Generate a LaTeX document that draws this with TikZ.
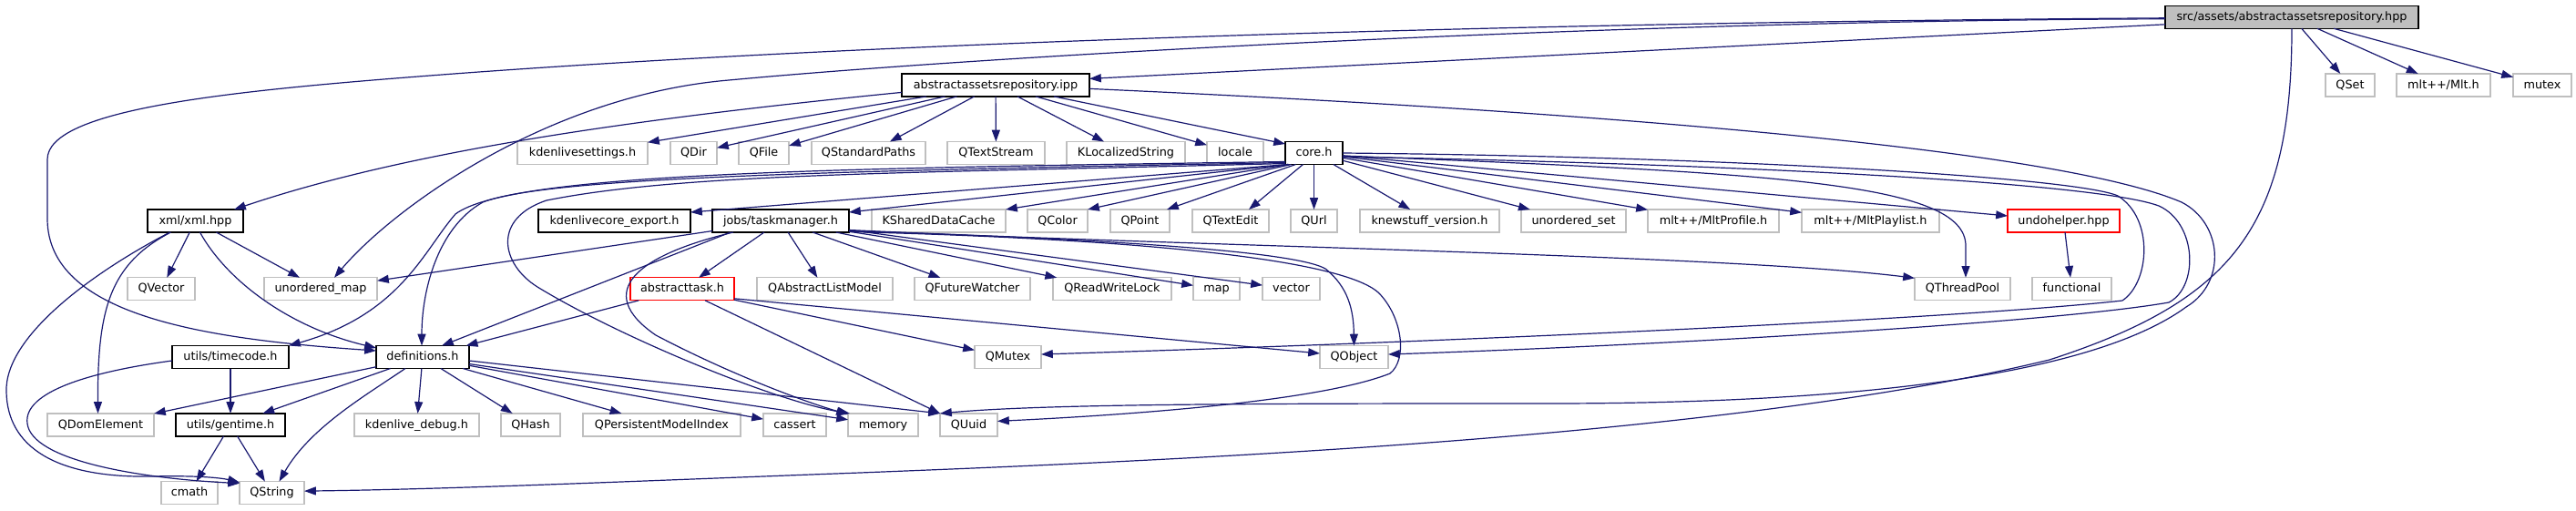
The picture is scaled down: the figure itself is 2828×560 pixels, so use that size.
\documentclass[tikz,border=0pt]{standalone}
\usepackage{fontspec}
\setmainfont{DejaVu Sans}
\usetikzlibrary{arrows.meta,calc}
\definecolor{edgeblue}{HTML}{191970}
\definecolor{extgray}{HTML}{BFBFBF}
\begin{document}
\begin{tikzpicture}[x=1pt,y=-1pt,
  box/.style={rectangle, inner sep=0pt, outer sep=0pt, minimum height=25pt, line width=1.2pt, fill=white, text height=9.3pt, text depth=2pt, font=\fontsize{12.8}{14}\selectfont},
  ext/.style={box, draw=extgray},
  doc/.style={box, draw=black},
  undoc/.style={box, draw=red},
  root/.style={box, draw=black, fill=extgray},
  edge/.style={draw=edgeblue, line width=1.2pt, -{Triangle[length=12.8pt,width=9pt]}}]
\useasboundingbox (0,0) rectangle (2828,560);
% row 0
\node[root, minimum width=278pt] (src) at (2516,18.8) {src/assets/abstractassetsrepository.hpp};
% row 1
\node[doc, minimum width=206pt] (ipp) at (1093,93.4) {abstractassetsrepository.ipp};
\node[ext, minimum width=54pt] (qset) at (2580,93.4) {QSet};
\node[ext, minimum width=103pt] (mlth) at (2682.5,93.4) {mlt++/Mlt.h};
\node[ext, minimum width=64pt] (mutex) at (2791,93.4) {mutex};
% row 2
\node[ext, minimum width=143pt] (kset) at (639.5,168) {kdenlivesettings.h};
\node[ext, minimum width=51pt] (qdir) at (761.5,168) {QDir};
\node[ext, minimum width=55pt] (qfile) at (838.5,168) {QFile};
\node[ext, minimum width=125pt] (qsp) at (953.5,168) {QStandardPaths};
\node[ext, minimum width=107pt] (qts) at (1093.5,168) {QTextStream};
\node[ext, minimum width=130pt] (kls) at (1236,168) {KLocalizedString};
\node[ext, minimum width=62pt] (locale) at (1356,168) {locale};
\node[doc, minimum width=63pt] (core) at (1442.5,168) {core.h};
% row 3
\node[doc, minimum width=105pt] (xml) at (214.5,242.5) {xml/xml.hpp};
\node[doc, minimum width=167pt] (kexp) at (674.5,242.5) {kdenlivecore\_export.h};
\node[doc, minimum width=150pt] (tm) at (857,242.5) {jobs/taskmanager.h};
\node[ext, minimum width=147pt] (ksdc) at (1030.5,242.5) {KSharedDataCache};
\node[ext, minimum width=66pt] (qcolor) at (1161,242.5) {QColor};
\node[ext, minimum width=65pt] (qpoint) at (1251.5,242.5) {QPoint};
\node[ext, minimum width=84pt] (qtedit) at (1351,242.5) {QTextEdit};
\node[ext, minimum width=51pt] (qurl) at (1442.5,242.5) {QUrl};
\node[ext, minimum width=153pt] (kns) at (1569.5,242.5) {knewstuff\_version.h};
\node[ext, minimum width=115pt] (uset) at (1727.5,242.5) {unordered\_set};
\node[ext, minimum width=144pt] (mltprof) at (1881,242.5) {mlt++/MltProfile.h};
\node[ext, minimum width=151pt] (mltplay) at (2053.5,242.5) {mlt++/MltPlaylist.h};
\node[undoc, minimum width=123pt] (undo) at (2265.5,242.5) {undohelper.hpp};
% row 4
\node[ext, minimum width=74pt] (qvector) at (177,317.3) {QVector};
\node[ext, minimum width=124pt] (umap) at (352,317.3) {unordered\_map};
\node[undoc, minimum width=114pt] (atask) at (749,317.3) {abstracttask.h};
\node[ext, minimum width=149pt] (qalm) at (905.5,317.3) {QAbstractListModel};
\node[ext, minimum width=127pt] (qfw) at (1067.5,317.3) {QFutureWatcher};
\node[ext, minimum width=130pt] (qrwl) at (1221,317.3) {QReadWriteLock};
\node[ext, minimum width=51pt] (map) at (1335.5,317.3) {map};
\node[ext, minimum width=63pt] (vector) at (1417.5,317.3) {vector};
\node[ext, minimum width=105pt] (qtp) at (2154.5,317.3) {QThreadPool};
\node[ext, minimum width=87pt] (functional) at (2274.5,317.3) {functional};
% row 5
\node[doc, minimum width=128pt] (timecode) at (253,392) {utils/timecode.h};
\node[doc, minimum width=102pt] (defs) at (464,392) {definitions.h};
\node[ext, minimum width=73pt] (qmutex) at (1106.5,392) {QMutex};
\node[ext, minimum width=75pt] (qobject) at (1486.5,392) {QObject};
% row 6
\node[ext, minimum width=117pt] (qdom) at (110.5,466.4) {QDomElement};
\node[doc, minimum width=120pt] (gentime) at (253,466.4) {utils/gentime.h};
\node[ext, minimum width=137pt] (kdbg) at (457.5,466.4) {kdenlive\_debug.h};
\node[ext, minimum width=65pt] (qhash) at (582.5,466.4) {QHash};
\node[ext, minimum width=173pt] (qpmi) at (726.5,466.4) {QPersistentModelIndex};
\node[ext, minimum width=69pt] (cassert) at (872.5,466.4) {cassert};
\node[ext, minimum width=77pt] (memory) at (969.5,466.4) {memory};
\node[ext, minimum width=63pt] (quuid) at (1063.5,466.4) {QUuid};
% row 7
\node[ext, minimum width=62pt] (cmath) at (208,541.1) {cmath};
\node[ext, minimum width=71pt] (qstring) at (298.5,541.1) {QString};

% ---- edges from src
\draw[edge] ($(src.west)+(0,8)$) -- ($(ipp.east)+(0,-7)$);
\draw[edge] ($(src.west)+(0,1)$) .. controls (1600,25) and (900,50) .. (472,83)
  .. controls (250,100) and (52,120) .. (52,175) -- (52,240)
  .. controls (52,345) and (220,372) .. ($(defs.west)+(0,-7)$);
\draw[edge] ($(src.west)+(0,2)$) .. controls (1800,22) and (1100,60) .. (800,88)
  .. controls (600,105) and (430,230) .. ($(umap.north)+(15,0)$);
\draw[edge] (src) -- (qset);
\draw[edge] (src) -- (mlth);
\draw[edge] (src) -- (mutex);
\draw[edge] (src.south) .. controls (2516,250) and (2450,330) .. (2250,395)
  .. controls (1900,480) and (1300,505) .. (944,519)
  .. controls (700,528) and (500,537) .. ($(qstring.east)+(0,-2)$);

% ---- edges from ipp
\draw[edge] ($(ipp.west)+(0,8)$) .. controls (700,130) and (450,165) .. ($(xml.north east)+(-10,0)$);
\draw[edge] (ipp) -- (kset);
\draw[edge] (ipp) -- (qdir);
\draw[edge] (ipp) -- (qfile);
\draw[edge] (ipp) -- (qsp);
\draw[edge] (ipp) -- (qts);
\draw[edge] (ipp) -- (kls);
\draw[edge] (ipp) -- (locale);
\draw[edge] ($(ipp.south)+(64,0)$) -- ($(core.west)+(0,-10)$);
\draw[edge] ($(ipp.east)+(0,4)$) .. controls (1700,120) and (2250,160) .. (2395,222)
  .. controls (2440,245) and (2445,310) .. (2400,337)
  .. controls (2300,410) and (2050,443) .. (1700,443)
  .. controls (1400,443) and (1150,443) .. (quuid.north west);

% ---- edges from core.h
\draw[edge] ($(core.south west)+(3,0)$) -- ($(kexp.north east)+(0,3)$);
\draw[edge] ($(core.south west)+(3,0)$) -- ($(tm.north east)+(0,3)$);
\draw[edge] ($(core.south west)+(4,0)$) -- (ksdc.north east);
\draw[edge] ($(core.south)+(-25,0)$) -- (qcolor.north east);
\draw[edge] ($(core.south)+(-20,0)$) -- ($(qpoint.north east)+(-3,0)$);
\draw[edge] ($(core.south)+(-12,0)$) -- ($(qtedit.north east)+(-22,0)$);
\draw[edge] (core) -- (qurl);
\draw[edge] (core) -- (kns);
\draw[edge] (core) -- (uset);
\draw[edge] (core) -- (mltprof);
\draw[edge] (core) -- (mltplay);
\draw[edge] (core) -- (undo);
\draw[edge] ($(core.east)+(0,3)$) .. controls (1950,190) and (2158,200) .. (2158,270) -- ($(qtp.north)+(3.5,0)$);
\draw[edge] (core.east) .. controls (1900,172) and (2280,195) .. (2325,215)
  .. controls (2365,240) and (2360,310) .. (2330,330)
  .. controls (2150,350) and (1600,375) .. ($(qmutex.east)+(0,-3)$);
\draw[edge] ($(core.east)+(0,4)$) .. controls (1900,180) and (2300,200) .. (2370,226)
  .. controls (2412,245) and (2414,315) .. (2381,332)
  .. controls (2250,355) and (1800,380) .. ($(qobject.east)+(0,-3)$);
\draw[edge] ($(core.south west)+(0,-3)$) .. controls (900,185) and (560,190) .. (500,235)
  .. controls (465,275) and (440,345) .. (timecode.north east);
\draw[edge] ($(core.south west)+(0,-2)$) .. controls (900,188) and (600,195) .. (530,222)
  .. controls (480,250) and (463,320) .. ($(defs.north)+(-1,0)$);
\draw[edge] ($(core.south west)+(0,-1)$) .. controls (1000,190) and (750,190) .. (600,220)
  .. controls (540,240) and (550,290) .. (590,315)
  .. controls (680,370) and (850,440) .. ($(memory.north west)+(2,0)$);

% ---- edges from xml
\draw[edge] (xml) -- (qvector);
\draw[edge] (xml) -- (umap);
\draw[edge] ($(xml.south)+(5,0)$) .. controls (250,310) and (320,360) .. ($(defs.west)+(0,-10)$);
\draw[edge] ($(xml.south)+(-27,0)$) .. controls (120,290) and (107,340) .. ($(qdom.north)+(-3,0)$);
\draw[edge] ($(xml.south)+(-28,0)$) .. controls (100,300) and (5,370) .. (7,430)
  .. controls (8,490) and (60,525) .. (167,523)
  .. controls (210,522) and (240,524) .. ($(qstring.north west)+(0,1)$);

% ---- edges from taskmanager
\draw[edge] (tm) -- (umap);
\draw[edge] ($(tm.south)+(-55,0)$) -- ($(defs.north)+(21,0)$);
\draw[edge] (tm) -- (atask);
\draw[edge] (tm) -- (qalm);
\draw[edge] (tm) -- (qfw);
\draw[edge] (tm) -- (qrwl);
\draw[edge] (tm) -- (map);
\draw[edge] (tm) -- (vector);
\draw[edge] ($(tm.east)+(0,10)$) .. controls (1300,270) and (1900,280) .. ($(qtp.west)+(0,-12)$);
\draw[edge] ($(tm.east)+(0,11)$) .. controls (1200,262) and (1420,275) .. (1455,295)
  .. controls (1480,315) and (1486,340) .. (qobject.north);
\draw[edge] ($(tm.east)+(0,12)$) .. controls (1250,262) and (1480,285) .. (1515,323)
  .. controls (1540,350) and (1545,395) .. (1526,410)
  .. controls (1450,440) and (1250,455) .. ($(quuid.east)+(0,-4)$);
\draw[edge] ($(tm.south)+(-52,0)$) .. controls (700,280) and (650,320) .. (720,368)
  .. controls (800,410) and (880,440) .. ($(memory.north west)+(0,1)$);

% ---- edges from abstracttask
\draw[edge] (atask) -- (defs);
\draw[edge] (atask) -- (qmutex);
\draw[edge] ($(atask.south east)+(0,-2)$) -- ($(qobject.west)+(0,-4)$);
\draw[edge] ($(atask.south)+(25,0)$) -- (quuid.north west);

% ---- undohelper
\draw[edge] (undo) -- (functional);

% ---- timecode
\draw[edge] (timecode) -- (gentime);
\draw[edge] ($(timecode.west)+(0,4)$) .. controls (100,408) and (25,430) .. (30,465)
  .. controls (35,505) and (150,525) .. ($(qstring.north west)+(0,2)$);

% ---- gentime
\draw[edge] (gentime) -- (cmath);
\draw[edge] (gentime) -- (qstring);

% ---- definitions
\draw[edge] (defs) -- (qdom);
\draw[edge] (defs) -- (gentime);
\draw[edge] ($(defs.south)+(-19,0)$) .. controls (400,435) and (340,470) .. ($(qstring.north)+(8,0)$);
\draw[edge] (defs) -- (kdbg);
\draw[edge] (defs) -- (qhash);
\draw[edge] (defs) -- (qpmi);
\draw[edge] (defs) -- (cassert);
\draw[edge] (defs) -- (memory);
\draw[edge] ($(defs.east)+(0,4)$) -- (quuid.north west);
\end{tikzpicture}
\end{document}
